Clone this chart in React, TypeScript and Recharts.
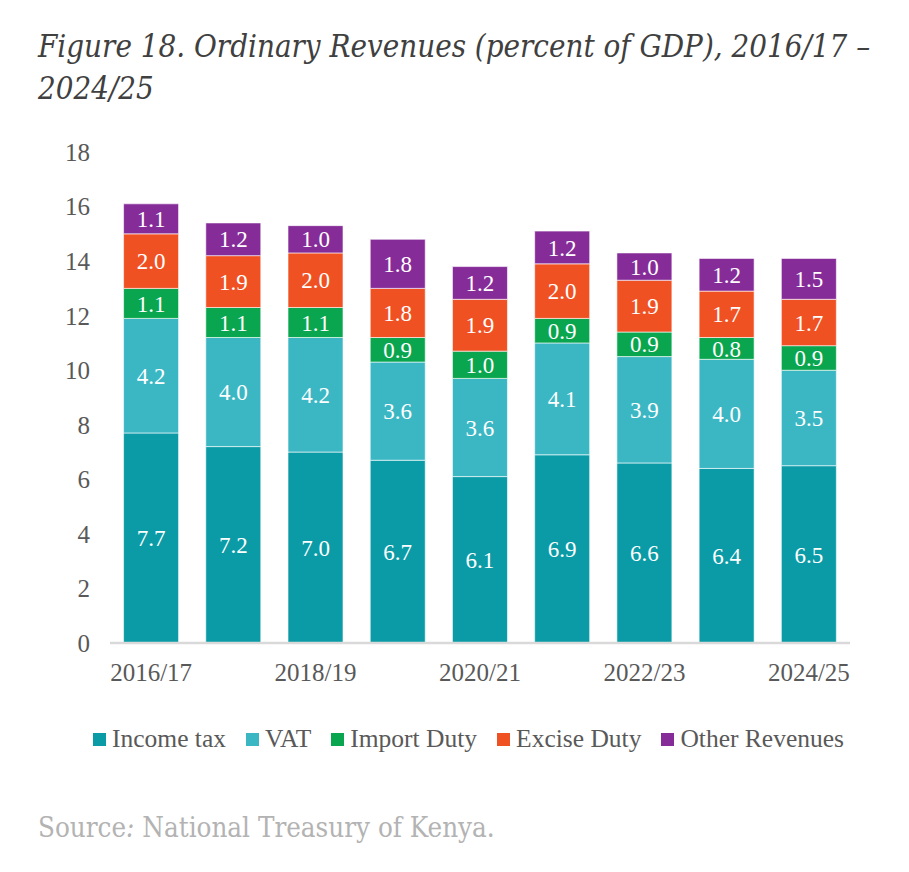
import React from 'react'
import { BarChart, Bar, XAxis, YAxis, LabelList } from 'recharts'

const years = ['2016/17', '2017/18', '2018/19', '2019/20', '2020/21', '2021/22', '2022/23', '2023/24', '2024/25']
const incomeTax = [7.7, 7.2, 7.0, 6.7, 6.1, 6.9, 6.6, 6.4, 6.5]
const vat = [4.2, 4.0, 4.2, 3.6, 3.6, 4.1, 3.9, 4.0, 3.5]
const importDuty = [1.1, 1.1, 1.1, 0.9, 1.0, 0.9, 0.9, 0.8, 0.9]
const exciseDuty = [2.0, 1.9, 2.0, 1.8, 1.9, 2.0, 1.9, 1.7, 1.7]
const otherRevenues = [1.1, 1.2, 1.0, 1.8, 1.2, 1.2, 1.0, 1.2, 1.5]
const yTicks = [0, 2, 4, 6, 8, 10, 12, 14, 16, 18]

const series = [
  { key: 'income', name: 'Income tax', color: '#0a9ba6' },
  { key: 'vat', name: 'VAT', color: '#3bb7c4' },
  { key: 'import', name: 'Import Duty', color: '#0aa64f' },
  { key: 'excise', name: 'Excise Duty', color: '#f05123' },
  { key: 'other', name: 'Other Revenues', color: '#862c98' }
]

const data = years.map((year, i) => ({
  year,
  income: incomeTax[i],
  vat: vat[i],
  import: importDuty[i],
  excise: exciseDuty[i],
  other: otherRevenues[i]
}))

const serif = '"Liberation Serif", "Times New Roman", serif'
const textGrey = '#595959'

function LegendRow() {
  return (
    <div
      style={{
        position: 'absolute',
        left: 14,
        top: 724,
        width: 909,
        display: 'flex',
        justifyContent: 'center',
        gap: 20,
        fontFamily: serif,
        fontSize: 25.5,
        color: textGrey
      }}
    >
      {series.map((s) => (
        <div key={s.key} style={{ display: 'flex', alignItems: 'center', gap: 6 }}>
          <span style={{ width: 13, height: 13, background: s.color, display: 'inline-block' }} />
          <span>{s.name}</span>
        </div>
      ))}
    </div>
  )
}

export default function App() {
  return (
    <div style={{ position: 'absolute', left: 0, top: 0, width: 909, height: 872, background: '#fff' }}>
      <div
        style={{
          position: 'absolute',
          left: 38,
          top: 25,
          fontFamily: '"DejaVu Serif Condensed", "DejaVu Serif", serif',
          fontStretch: 'condensed',
          fontStyle: 'italic',
          fontSize: 31,
          lineHeight: '42px',
          color: '#404040'
        }}
      >
        Figure 18. Ordinary Revenues (percent of GDP), 2016/17 –<br />2024/25
      </div>
      <div style={{ position: 'absolute', left: 0, top: 0 }}>
        <BarChart
          width={909}
          height={710}
          data={data}
          margin={{ top: 152, right: 59, left: 50, bottom: 37 }}
          barCategoryGap="16.5%"
        >
          <XAxis
            dataKey="year"
            interval={1}
            height={30}
            tickLine={false}
            tickMargin={14}
            axisLine={{ stroke: '#d9d9d9', strokeWidth: 2.5 }}
            tick={{ fill: textGrey, fontSize: 25, fontFamily: serif }}
          />
          <YAxis
            width={60}
            domain={[0, 18]}
            ticks={yTicks}
            axisLine={false}
            tickLine={false}
            tickMargin={14}
            tick={{ fill: textGrey, fontSize: 25, fontFamily: serif }}
          />
          {series.map((s) => (
            <Bar
              key={s.key}
              dataKey={s.key}
              name={s.name}
              stackId="rev"
              fill={s.color}
              stroke="#ffffff"
              strokeWidth={0.6}
              isAnimationActive={false}
            >
              <LabelList
                dataKey={s.key}
                position="center"
                fill="#ffffff"
                fontSize={23}
                fontFamily={serif}
                formatter={(v: number) => v.toFixed(1)}
              />
            </Bar>
          ))}
        </BarChart>
      </div>
      <LegendRow />
      <div
        style={{
          position: 'absolute',
          left: 38,
          top: 811,
          fontFamily: '"DejaVu Serif Condensed", "DejaVu Serif", serif',
          fontStretch: 'condensed',
          fontSize: 27.5,
          color: '#b3b3b3'
        }}
      >
        Source<i>:</i> National Treasury of Kenya.
      </div>
    </div>
  )
}
